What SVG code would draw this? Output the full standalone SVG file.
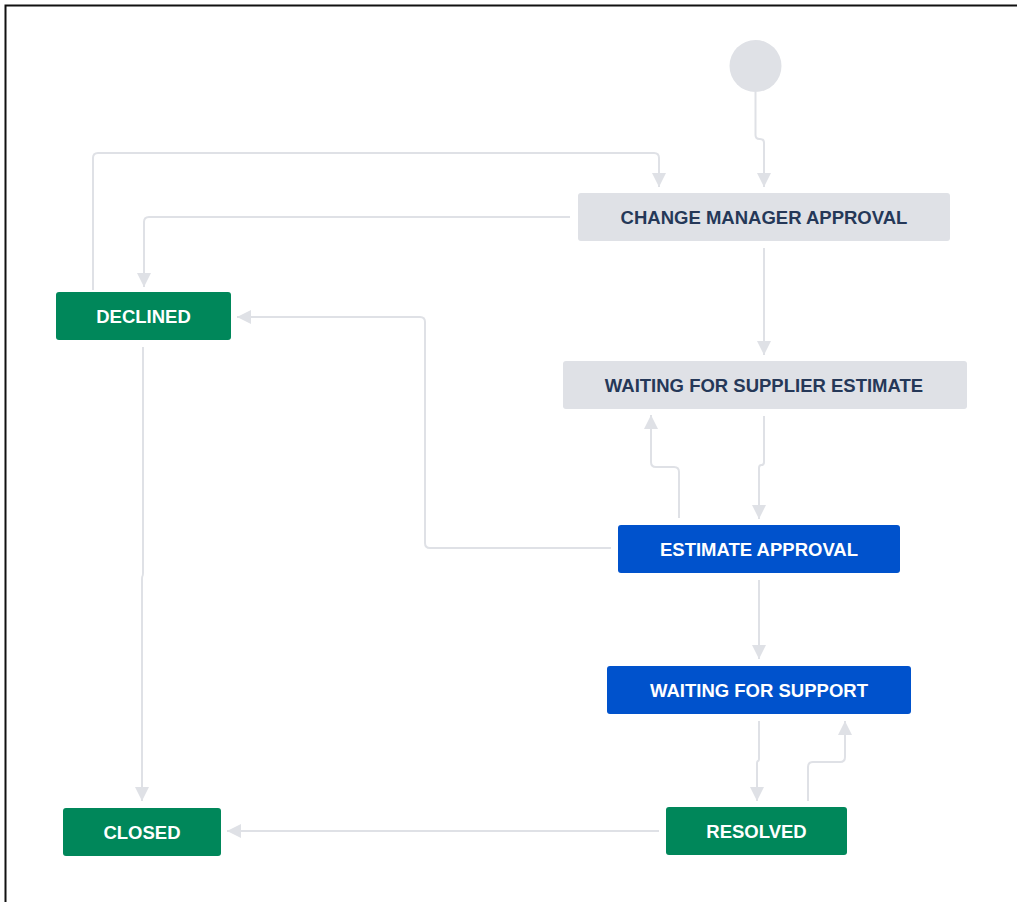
<svg xmlns="http://www.w3.org/2000/svg" width="1017" height="902" viewBox="0 0 1017 902">
<style>
.edge{fill:none;stroke:#DFE1E6;stroke-width:2;marker-end:url(#arr)}
.lbl{font-family:"Liberation Sans",Arial,sans-serif;font-size:18.5px;font-weight:bold;text-anchor:middle}
.gray rect{fill:#DFE1E6}
.gray text{fill:#253858}
.green rect{fill:#00875A}
.blue rect{fill:#0052CC}
.green text,.blue text{fill:#FFFFFF}
</style>
<defs>
<marker id="arr" viewBox="0 0 14 14" markerWidth="14" markerHeight="14" refX="14" refY="7" orient="auto" markerUnits="userSpaceOnUse">
<path d="M0,0 L14,7 L0,14 z" fill="#DFE1E6"/>
</marker>
</defs>
<rect x="0" y="0" width="1017" height="902" fill="#FFFFFF"/>
<path d="M5.5,902 V5.5 H1017" fill="none" stroke="#111111" stroke-width="2"/>
<g id="connectors">
<path class="edge" d="M755.5,92 V135 Q755.5,139 759.5,139 H760 Q764,139 764,143 V187"/>
<path class="edge" d="M93,290 V158 Q93,153 98,153 H654 Q659,153 659,158 V187"/>
<path class="edge" d="M570,217 H149 Q144,217 144,222 V287"/>
<path class="edge" d="M764,248 V355"/>
<path class="edge" d="M764,416 V462 Q764,465 761.5,465 Q759,465 759,468 V519"/>
<path class="edge" d="M679,518 V472 Q679,467 674,467 H656 Q651,467 651,462 V415"/>
<path class="edge" d="M611,548 H430 Q425,548 425,543 V322 Q425,317 420,317 H237"/>
<path class="edge" d="M759,580 V659"/>
<path class="edge" d="M759,721 V758 Q759,761 758,761 Q757,761 757,764 V801"/>
<path class="edge" d="M808,801 V767 Q808,762 813,762 H840 Q845,762 845,757 V721"/>
<path class="edge" d="M143,347 V572 Q143,576 142.5,576 Q142,576 142,580 V801"/>
<path class="edge" d="M659,831 H227"/>
</g>
<g id="start"><circle cx="755.5" cy="66" r="26" fill="#DFE1E6"/></g>
<g id="change-manager-approval" class="gray"><rect x="578" y="193" width="372" height="48" rx="3"/><text class="lbl" x="764" y="223.5">CHANGE MANAGER APPROVAL</text></g>
<g id="declined" class="green"><rect x="56" y="292" width="175" height="48" rx="3"/><text class="lbl" x="143.5" y="322.5">DECLINED</text></g>
<g id="waiting-for-supplier-estimate" class="gray"><rect x="563" y="361" width="404" height="48" rx="3"/><text class="lbl" x="764" y="391.5">WAITING FOR SUPPLIER ESTIMATE</text></g>
<g id="estimate-approval" class="blue"><rect x="618" y="525" width="282" height="48" rx="3"/><text class="lbl" x="759" y="555.5">ESTIMATE APPROVAL</text></g>
<g id="waiting-for-support" class="blue"><rect x="607" y="666" width="304" height="48" rx="3"/><text class="lbl" x="759" y="696.5">WAITING FOR SUPPORT</text></g>
<g id="resolved" class="green"><rect x="666" y="807" width="181" height="48" rx="3"/><text class="lbl" x="756.5" y="837.5">RESOLVED</text></g>
<g id="closed" class="green"><rect x="63" y="808" width="158" height="48" rx="3"/><text class="lbl" x="142" y="838.5">CLOSED</text></g>
</svg>
